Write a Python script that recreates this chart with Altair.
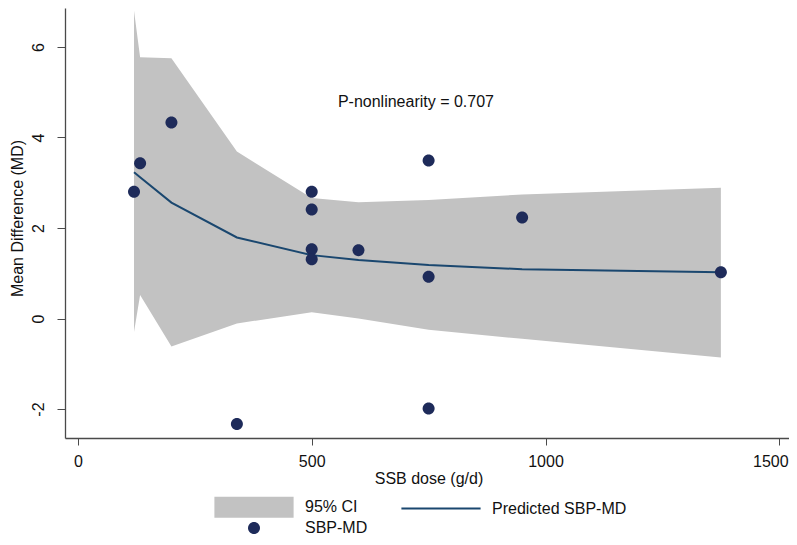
import altair as alt
import pandas as pd

# ---- data ----
fit_x = [120, 133, 200, 340, 500, 600, 750, 950, 1375]
fit_y = [3.23, 3.12, 2.56, 1.79, 1.40, 1.29, 1.18, 1.09, 1.02]
ci_lo = [-0.30, 0.52, -0.62, -0.11, 0.14, 0.00, -0.25, -0.45, -0.86]
ci_hi = [6.80, 5.77, 5.75, 3.69, 2.66, 2.57, 2.62, 2.74, 2.89]

pt_x = [120, 133, 200, 340, 500, 500, 500, 500, 600, 750, 750, 750, 950, 1375]
pt_y = [2.80, 3.43, 4.33, -2.33, 2.80, 2.41, 1.53, 1.31, 1.51, 3.49, 0.92, -1.99, 2.23, 1.02]

x_ticks = [0, 500, 1000, 1500]
y_ticks = [-2, 0, 2, 4, 6]
legend_labels = ["95% CI", "Predicted SBP-MD", "SBP-MD"]
annotation = "P-nonlinearity = 0.707"

BAND = "#c2c2c2"
LINE = "#1a476f"
DOT = "#1e2b5a"
AXIS = "#4a4a4a"
FONT = "Liberation Sans"

fit = pd.DataFrame({"x": fit_x, "y": fit_y, "lo": ci_lo, "hi": ci_hi})
pts = pd.DataFrame({"x": pt_x, "y": pt_y, "series": ["SBP-MD"] * len(pt_x)})
note = pd.DataFrame({"x": [556], "y": [4.79], "t": [annotation]})

xs = alt.Scale(domain=[-27.6, 1520.7], nice=False, zero=False)
ys = alt.Scale(domain=[-2.64, 6.86], nice=False, zero=False)

xaxis = alt.Axis(values=x_ticks, title="SSB dose (g/d)", grid=False,
                 labelExpr="'' + datum.value",
                 labelFontSize=16, labelFont=FONT, labelColor="#111",
                 labelPadding=8, labelBaseline="top", labelAngle=0,
                 labelOffset={"condition": {"test": "datum.value === 1500", "value": -9},
                              "value": 0},
                 tickSize=7, tickColor=AXIS, domainColor=AXIS, domainWidth=1.3,
                 titleFont=FONT, titleFontSize=16, titleFontWeight="normal",
                 titleColor="#111", titleX=363.5, titleY=45,
                 titleBaseline="alphabetic", titleAlign="center")
yaxis = alt.Axis(values=y_ticks, title="Mean Difference (MD)", grid=False,
                 labelExpr="'' + datum.value",
                 labelFontSize=16, labelFont=FONT, labelColor="#111",
                 labelAngle=270, labelAlign="center", labelBaseline="alphabetic",
                 labelPadding=14, tickSize=8, tickColor=AXIS,
                 domainColor=AXIS, domainWidth=1.3,
                 titleFont=FONT, titleFontSize=16, titleFontWeight="normal",
                 titleColor="#111", titleAngle=270, titleX=-43, titleY=210,
                 titleBaseline="alphabetic", titleAlign="center")

band = alt.Chart(fit).mark_area(color=BAND, opacity=1).encode(
    x=alt.X("x:Q", scale=xs, axis=xaxis),
    y=alt.Y("lo:Q", scale=ys, axis=yaxis),
    y2="hi:Q",
)

line = alt.Chart(fit).mark_line(color=LINE, strokeWidth=2).encode(
    x=alt.X("x:Q", scale=xs),
    y=alt.Y("y:Q", scale=ys),
)

# legend glyphs (unit = 6 px for symbol size 144)
box_path = "M-6.6,-1.75H6.6V1.75H-6.6Z"
line_path = "M-6.6,-0.17H6.6V0.17H-6.6Z"
dot_path = "M-1,0A1,1 0 1,0 1,0A1,1 0 1,0 -1,0Z"


def make_legend():
    return alt.Legend(
        title=None, orient="none", direction="horizontal",
        legendX=181, legendY=491, columns=2,
        columnPadding=33, rowPadding=2, padding=0, symbolSize=144,
        symbolStrokeWidth=0, symbolOpacity=1,
        labelFont=FONT, labelFontSize=16, labelColor="#111", labelOffset=43,
    )


points = alt.Chart(pts).mark_point(filled=True, size=144, opacity=1).encode(
    x=alt.X("x:Q", scale=xs),
    y=alt.Y("y:Q", scale=ys),
    color=alt.Color("series:N",
                    scale=alt.Scale(domain=legend_labels, range=[BAND, LINE, DOT]),
                    legend=make_legend()),
    shape=alt.Shape("series:N",
                    scale=alt.Scale(domain=legend_labels,
                                    range=[box_path, line_path, dot_path]),
                    legend=make_legend()),
)

text = alt.Chart(note).mark_text(align="left", baseline="middle", font=FONT,
                                 fontSize=16, color="#111").encode(
    x=alt.X("x:Q", scale=xs),
    y=alt.Y("y:Q", scale=ys),
    text="t:N",
)

chart = alt.layer(band, line, points, text).properties(
    width=724, height=430,
    autosize=alt.AutoSizeParams(type="none"),
    padding={"left": 57, "top": 0, "right": 0, "bottom": 99},
).configure_view(strokeWidth=0)

chart.save("out.html", embed_options={"renderer": "svg", "actions": False})
